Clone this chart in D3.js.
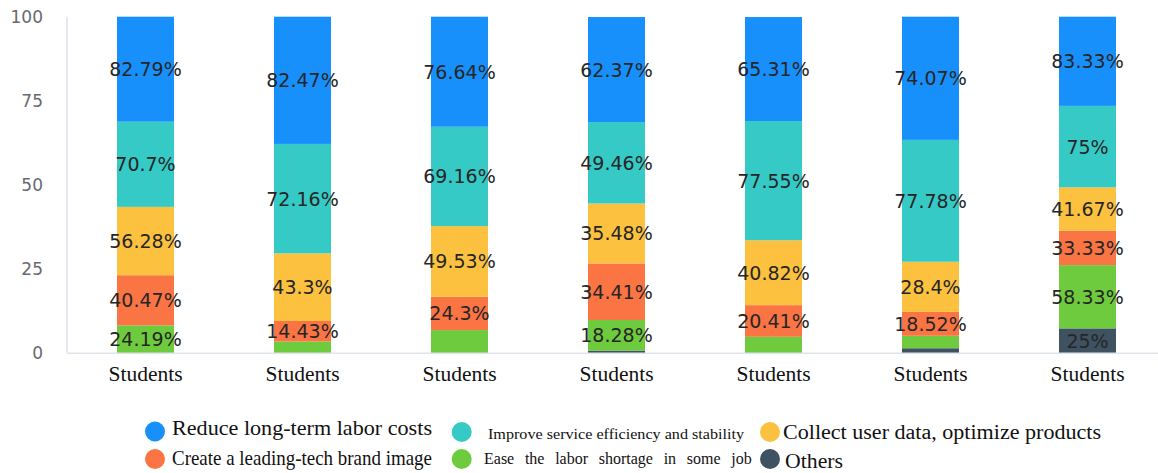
<!DOCTYPE html>
<html>
<head>
<meta charset="utf-8">
<script src="https://cdn.jsdelivr.net/npm/d3@7/dist/d3.min.js"></script>
<style>
  html, body { margin: 0; padding: 0; background: #ffffff; }
  svg { display: block; }
</style>
</head>
<body>
<svg id="chart" width="1158" height="473"></svg>
<script>
// ---------------- DATA ----------------
const categories = ["Students", "Students", "Students", "Students", "Students", "Students", "Students"];

const seriesNames = [
  "Reduce long-term labor costs",
  "Improve service efficiency and stability",
  "Collect user data, optimize products",
  "Create a leading-tech brand image",
  "Ease the labor shortage in some job",
  "Others"
];

// Segment heights (share of each 100% bar)
const reduceShare   = [31.2, 37.8, 32.7, 31.2, 30.9, 36.6, 26.5];
const improveShare  = [25.3, 32.5, 29.5, 24.2, 35.4, 36.2, 24.2];
const collectShare  = [20.3, 20.1, 21.0, 17.8, 19.3, 14.9, 12.9];
const createShare   = [14.9,  6.1,  9.9, 16.8,  9.4,  7.1, 10.2];
const easeShare     = [ 8.3,  3.5,  6.9,  9.1,  4.9,  3.7, 18.8];
const othersShare   = [ 0.0,  0.0,  0.0,  0.8,  0.0,  1.5,  7.4];

// Percent labels printed on the segments (null = no label shown)
const reduceLabel  = [82.79, 82.47, 76.64, 62.37, 65.31, 74.07, 83.33];
const improveLabel = [70.7, 72.16, 69.16, 49.46, 77.55, 77.78, 75];
const collectLabel = [56.28, 43.3, 49.53, 35.48, 40.82, 28.4, 41.67];
const createLabel  = [40.47, 14.43, 24.3, 34.41, 20.41, 18.52, 33.33];
const easeLabel    = [24.19, null, null, 18.28, null, null, 58.33];
const othersLabel  = [null, null, null, null, null, null, 25];

const yTicks = [0, 25, 50, 75, 100];

const seriesColors = ["#1790fb", "#36cac6", "#fcc13f", "#fa7444", "#6ecb3d", "#3f5262"];

// ---------------- BUILD ----------------
const keys = ["reduce", "improve", "collect", "create", "ease", "others"];
const shares = { reduce: reduceShare, improve: improveShare, collect: collectShare,
                 create: createShare, ease: easeShare, others: othersShare };
const labels = { reduce: reduceLabel, improve: improveLabel, collect: collectLabel,
                 create: createLabel, ease: easeLabel, others: othersLabel };
const colorOf = {};
keys.forEach((k, i) => colorOf[k] = seriesColors[i]);

const table = categories.map((c, i) => {
  const row = { idx: i, name: c };
  keys.forEach(k => row[k] = shares[k][i]);
  return row;
});

// stack from bottom: others, ease, create, collect, improve, reduce
const stackOrder = ["others", "ease", "create", "collect", "improve", "reduce"];
const stacked = d3.stack().keys(stackOrder)(table);

const svg = d3.select("#chart");
const W = 1158, H = 473;

const x = d3.scaleBand()
  .domain(categories.map((c, i) => i))
  .range([67, 1166])
  .paddingInner(0.637)
  .paddingOuter(0.3185);

const y = d3.scaleLinear().domain([0, 100]).range([353.3, 16.7]);

// y axis line
svg.append("line")
  .attr("x1", 67).attr("x2", 67)
  .attr("y1", y(100)).attr("y2", y(0))
  .attr("stroke", "#dfe3ec").attr("stroke-width", 1.5);

// y axis tick labels
const yAxis = d3.axisLeft(y).tickValues(yTicks).tickSize(0).tickPadding(0);
const yg = svg.append("g").attr("transform", "translate(43,0)").call(yAxis);
yg.select(".domain").remove();
yg.selectAll("text")
  .attr("font-family", "'DejaVu Sans', sans-serif")
  .attr("font-size", 17)
  .attr("fill", "#666a70");

// bars
svg.append("g").selectAll("g")
  .data(stacked)
  .join("g")
  .attr("fill", d => colorOf[d.key])
  .selectAll("rect")
  .data(d => d.filter(s => s[1] - s[0] > 0))
  .join("rect")
  .attr("x", d => x(d.data.idx))
  .attr("width", x.bandwidth())
  .attr("y", d => y(d[1]))
  .attr("height", d => y(d[0]) - y(d[1]));

// x axis line
svg.append("line")
  .attr("x1", 67).attr("x2", W)
  .attr("y1", y(0)).attr("y2", y(0))
  .attr("stroke", "#dfe3ec").attr("stroke-width", 1.5);

// x axis category labels
const xAxis = d3.axisBottom(x).tickSize(0).tickPadding(0).tickFormat(i => categories[i]);
const xg = svg.append("g").attr("transform", "translate(0,366)").call(xAxis);
xg.select(".domain").remove();
xg.selectAll("text")
  .attr("font-family", "'Liberation Serif', 'Times New Roman', serif")
  .attr("font-size", 21.5)
  .attr("fill", "#111")
  .attr("dy", "0.71em");

// segment labels
const labelG = svg.append("g");
stacked.forEach(layer => {
  layer.forEach(seg => {
    const v = labels[layer.key][seg.data.idx];
    if (v === null || v === undefined) return;
    labelG.append("text")
      .attr("x", x(seg.data.idx) + x.bandwidth() / 2)
      .attr("y", y((seg[0] + seg[1]) / 2))
      .attr("text-anchor", "middle")
      .attr("dominant-baseline", "central")
      .attr("font-family", "'DejaVu Sans', sans-serif")
      .attr("font-size", 19)
      .attr("fill", "#262626")
      .text(v + "%");
  });
});

// legend
const legendLayout = [
  { key: "reduce",  cx: 155,   cy: 431.5, tx: 172, ty: 435,   fs: 21,   len: 260 },
  { key: "improve", cx: 461.7, cy: 432,   tx: 488, ty: 439,   fs: 14,   len: 256 },
  { key: "collect", cx: 770,   cy: 432,   tx: 783, ty: 438.5, fs: 20.5, len: 318 },
  { key: "create",  cx: 155,   cy: 459,   tx: 172, ty: 464.5, fs: 21,   len: 260 },
  { key: "ease",    cx: 461.7, cy: 459,   tx: 484, ty: 464,   fs: 16,   len: null, ws: 6.7 },
  { key: "others",  cx: 770,   cy: 459,   tx: 785, ty: 468,   fs: 21,   len: 58 }
];
const lg = svg.append("g");
legendLayout.forEach(l => {
  const i = keys.indexOf(l.key);
  lg.append("circle")
    .attr("cx", l.cx).attr("cy", l.cy).attr("r", 10)
    .attr("fill", colorOf[l.key]);
  const t = lg.append("text")
    .attr("x", l.tx).attr("y", l.ty)
    .attr("font-family", "'Liberation Serif', 'Times New Roman', serif")
    .attr("font-size", l.fs)
    .attr("fill", "#111")
    .text(seriesNames[i]);
  if (l.len) t.attr("textLength", l.len).attr("lengthAdjust", "spacingAndGlyphs");
  if (l.ws) t.attr("word-spacing", l.ws);
});
</script>
</body>
</html>
